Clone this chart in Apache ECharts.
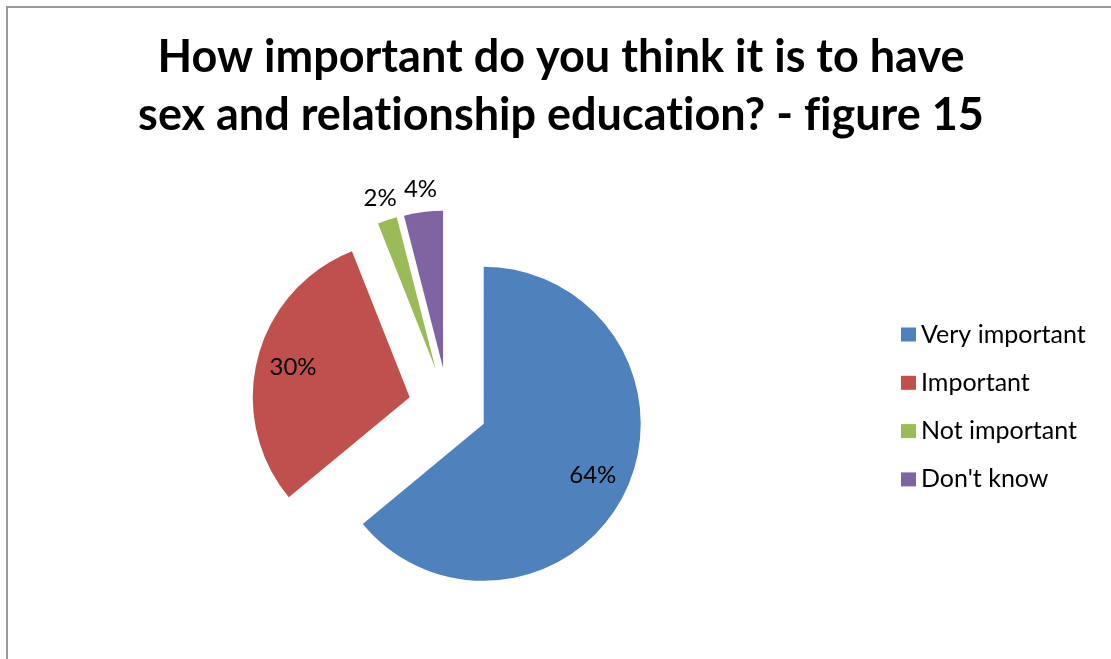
<!DOCTYPE html>
<html>
<head>
<meta charset="utf-8">
<script src="https://cdn.jsdelivr.net/npm/echarts@6/dist/echarts.min.js"></script>
<style>
  html, body { margin: 0; padding: 0; background: #fff; }
  #chart { width: 1111px; height: 659px; }
</style>
</head>
<body>
<div id="chart"></div>
<script>
// Survey answers (percent of respondents)
const categories = ['Very important', 'Important', 'Not important', "Don't know"];
const values = [64, 30, 2, 4];
const colors = ['#4F81BD', '#C0504D', '#9BBB59', '#8064A2'];
const titleLines = [
  'How important do you think it is to have',
  'sex and relationship education? - figure 15'
];

// Slices whose labels sit inside the wedge vs. just beyond the rim
const innerLabelIdx = [0, 1];
const outerLabelIdx = [2, 3];

const FONT = 'Lato, "Open Sans", sans-serif';
const CENTER = [448, 407];
const R = 157;
const EXPLODE = 39.5;

// Lato joins "fi" and "ti" into ligatures; a zero-width non-joiner keeps the letters apart
const noLig = s => s.replace(/([ft])(?=i)/g, '$1\u200C');

const chart = echarts.init(document.getElementById('chart'), null, { renderer: 'canvas' });

function pieBase(radius) {
  return {
    type: 'pie',
    center: CENTER,
    radius: radius,
    startAngle: 90,
    clockwise: true,
    selectedMode: 'multiple',
    selectedOffset: EXPLODE,
    avoidLabelOverlap: false,
    animation: false,
    labelLine: { show: false }
  };
}

// Visible exploded wedges
const mainSeries = Object.assign(pieBase(R), {
  data: categories.map((name, i) => ({
    name, value: values[i], selected: true,
    itemStyle: { color: colors[i] }
  })),
  itemStyle: { borderWidth: 0 },
  label: { show: false },
  emphasis: { disabled: true }
});

// Transparent rings carrying the percentage labels at the required depth
function labelSeries(radius, showIdx) {
  return Object.assign(pieBase(radius), {
    silent: true,
    data: categories.map((name, i) => ({
      name, value: values[i], selected: true,
      itemStyle: { color: 'rgba(0,0,0,0)' },
      label: { show: showIdx.includes(i) }
    })),
    itemStyle: { borderWidth: 0, color: 'rgba(0,0,0,0)' },
    label: {
      position: 'inside',
      formatter: '{d}%',
      color: '#000',
      fontFamily: FONT,
      fontSize: 24
    },
    emphasis: { disabled: true }
  });
}

const option = {
  backgroundColor: '#fff',
  color: colors,
  title: {
    text: titleLines.map(noLig).join('\n'),
    left: 561,
    top: 28,
    padding: 0,
    textAlign: 'center',
    textStyle: {
      fontFamily: FONT,
      fontWeight: 'bold',
      fontSize: 45,
      lineHeight: 58,
      color: '#000'
    }
  },
  legend: {
    orient: 'vertical',
    left: 901,
    top: 322,
    padding: 0,
    data: categories,
    icon: 'rect',
    itemWidth: 15,
    itemHeight: 14,
    itemGap: 23.3,
    selectedMode: false,
    textStyle: {
      fontFamily: FONT,
      fontSize: 25,
      lineHeight: 25,
      color: '#000'
    }
  },
  graphic: [{
    type: 'rect',
    silent: true,
    shape: { x: 7, y: 7, width: 2000, height: 2000 },
    style: { fill: 'none', stroke: '#9a9a9a', lineWidth: 2 }
  }],
  series: [
    mainSeries,
    labelSeries([0, 235], innerLabelIdx),
    labelSeries([152, 202], outerLabelIdx)
  ]
};

chart.setOption(option);
</script>
</body>
</html>
